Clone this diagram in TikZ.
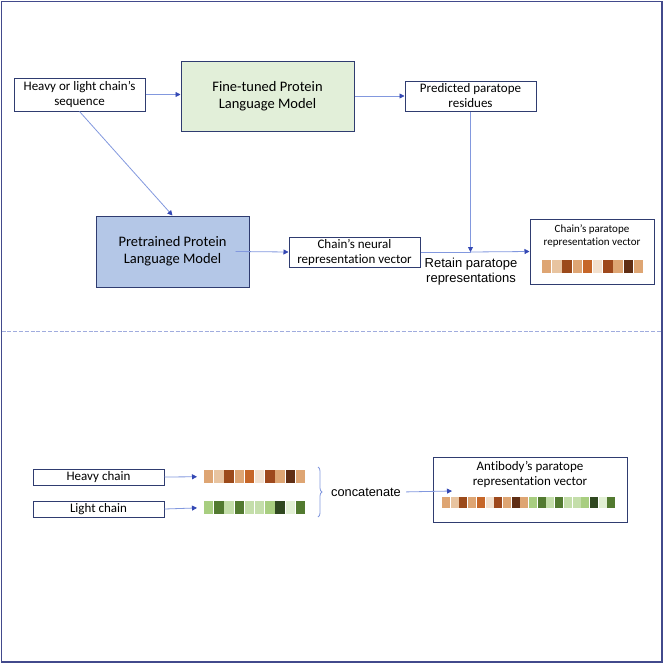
\documentclass[tikz,border=0pt]{standalone}
\usepackage{fontspec}
\setmainfont{Carlito}[Ligatures=NoCommon]
\newfontfamily\arialf{Liberation Sans}
\usetikzlibrary{arrows.meta,decorations.pathreplacing}
\definecolor{framec}{RGB}{66,74,140}
\definecolor{boxc}{RGB}{47,60,112}
\definecolor{linec}{RGB}{130,152,222}
\definecolor{tipc}{RGB}{52,72,180}
\definecolor{dashc}{RGB}{160,172,222}
\definecolor{ftfill}{RGB}{226,239,217}
\definecolor{prefill}{RGB}{180,199,231}
\definecolor{tanc}{RGB}{222,165,115}
\definecolor{ltan}{RGB}{232,196,160}
\definecolor{dbrn}{RGB}{156,74,26}
\definecolor{orng}{RGB}{198,102,40}
\definecolor{vlt}{RGB}{242,224,206}
\definecolor{brn}{RGB}{158,72,28}
\definecolor{vdbrn}{RGB}{96,46,20}
\definecolor{lgr}{RGB}{168,206,128}
\definecolor{dgr}{RGB}{82,122,48}
\definecolor{pgr}{RGB}{196,222,170}
\definecolor{vdgr}{RGB}{48,72,32}
\definecolor{vpgr}{RGB}{226,240,212}
\tikzset{
  box/.style={draw=boxc, line width=1pt, inner sep=0pt, align=center,
    font=\fontsize{13}{15}\selectfont},
  bigbox/.style={box, font=\fontsize{14.5}{17}\selectfont},
  plaintext/.style={inner sep=0pt, align=center},
  arialtext/.style={inner sep=0pt, align=center, font=\arialf\fontsize{12.8}{15.5}\selectfont},
  vecrow/.style={inner sep=0pt, draw=none},
  arr/.style={draw=linec, line width=0.8pt, -{Triangle[length=5pt,width=5pt,color=tipc]}},
  plainline/.style={draw=linec, line width=0.8pt},
}
\newcommand{\heavycols}{tanc,ltan,dbrn,tanc,orng,vlt,brn,tanc,vdbrn,tanc}
\newcommand{\lightcols}{lgr,dgr,pgr,dgr,pgr,pgr,lgr,vdgr,vpgr,dgr}
\begin{document}
\begin{tikzpicture}[x=1pt,y=-1pt]
\useasboundingbox (0,0) rectangle (664,664);
% frame
\draw[framec, line width=1.5pt] (1.5,1.5) rectangle (662,662);
\draw[dashc, line width=1pt, dash pattern=on 4pt off 1.8pt] (1.5,331) -- (662,331);

% top section
\node[box, minimum width=131, minimum height=33] (seq) at (79.5,94.5)
  {Heavy or light chain’s\\sequence};
\node[bigbox, fill=ftfill, minimum width=173, minimum height=70] (ft) at (267.5,96)
  {Fine-tuned Protein\\Language Model};
\node[box, minimum width=131, minimum height=30] (pred) at (470.5,96)
  {Predicted paratope\\residues};
\node[bigbox, fill=prefill, minimum width=153, minimum height=71] (pre) at (172.5,251.5)
  {Pretrained Protein\\Language Model};
\node[box, minimum width=131, minimum height=30] (neural) at (354.5,252)
  {Chain’s neural\\representation vector};
\node[box, minimum width=124, minimum height=65] (cpv) at (592,251.5) {};
\node[plaintext, font=\fontsize{11}{13}\selectfont] (cpvt) at (592,236.5)
  {Chain’s paratope\\representation vector};
\node[vecrow, anchor=north west, minimum width=102, minimum height=13] (cvec) at (542,260) {};
\foreach \c [count=\i from 0] in \heavycols {
  \fill[\c] (542+\i*10.2,260) rectangle ++(9.4,13);
}

\draw[arr] (seq.east) -- (seq.east -| ft.west);
\draw[arr] (ft.east) -- (pred.west);
\draw[arr] (seq.south) -- (pre.north);
\draw[arr] ([xshift=-14pt]pre.east) -- (neural.west);
\coordinate (jn) at (pred.south |- neural.east);
\draw[plainline] (neural.east) -- (jn);
\draw[arr] (jn) -- (cpv.west);
\draw[arr] (pred.south) -- (jn);
\node[arialtext, font=\arialf\fontsize{13}{15}\selectfont] (retain) at (471,271.5)
  {Retain paratope\\representations};

% bottom section
\node[box, minimum width=131, minimum height=16] (heavy) at (98.5,477) {Heavy chain};
\node[box, minimum width=131, minimum height=16] (light) at (98.5,509) {Light chain};
\node[vecrow, anchor=north west, minimum width=102, minimum height=13] (hvec) at (204,470) {};
\node[vecrow, anchor=north west, minimum width=102, minimum height=13] (lvec) at (204,501) {};
\foreach \c [count=\i from 0] in \heavycols {
  \fill[\c] (204+\i*10.2,470) rectangle ++(9.4,13);
}
\foreach \c [count=\i from 0] in \lightcols {
  \fill[\c] (204+\i*10.2,501) rectangle ++(9.4,13);
}
\draw[arr, shorten >=7pt] (heavy.east) -- (hvec.west);
\draw[arr, shorten >=7pt] (light.east) -- (lvec.west);

\draw[linec, line width=0.8pt, decorate, decoration={brace, amplitude=4pt}] (318,467) -- (318,517);
\node[arialtext] (concat) at (366,492) {concatenate};

\node[box, minimum width=194, minimum height=65] (apv) at (530,489.5) {};
\node[plaintext, font=\fontsize{13}{15}\selectfont] (apvt) at (530,474.5)
  {Antibody’s paratope\\representation vector};
\node[vecrow, anchor=north west, minimum width=174, minimum height=10] (avec) at (442,497) {};
\foreach \c [count=\i from 0] in \heavycols {
  \fill[\c] (442+\i*8.7,497) rectangle ++(8.0,10.5);
}
\foreach \c [count=\i from 10] in \lightcols {
  \fill[\c] (442+\i*8.7,497) rectangle ++(8.0,10.5);
}
\coordinate (cend) at (452,491);
\draw[arr, shorten <=5pt] (concat.east) -- (cend);
\end{tikzpicture}
\end{document}
